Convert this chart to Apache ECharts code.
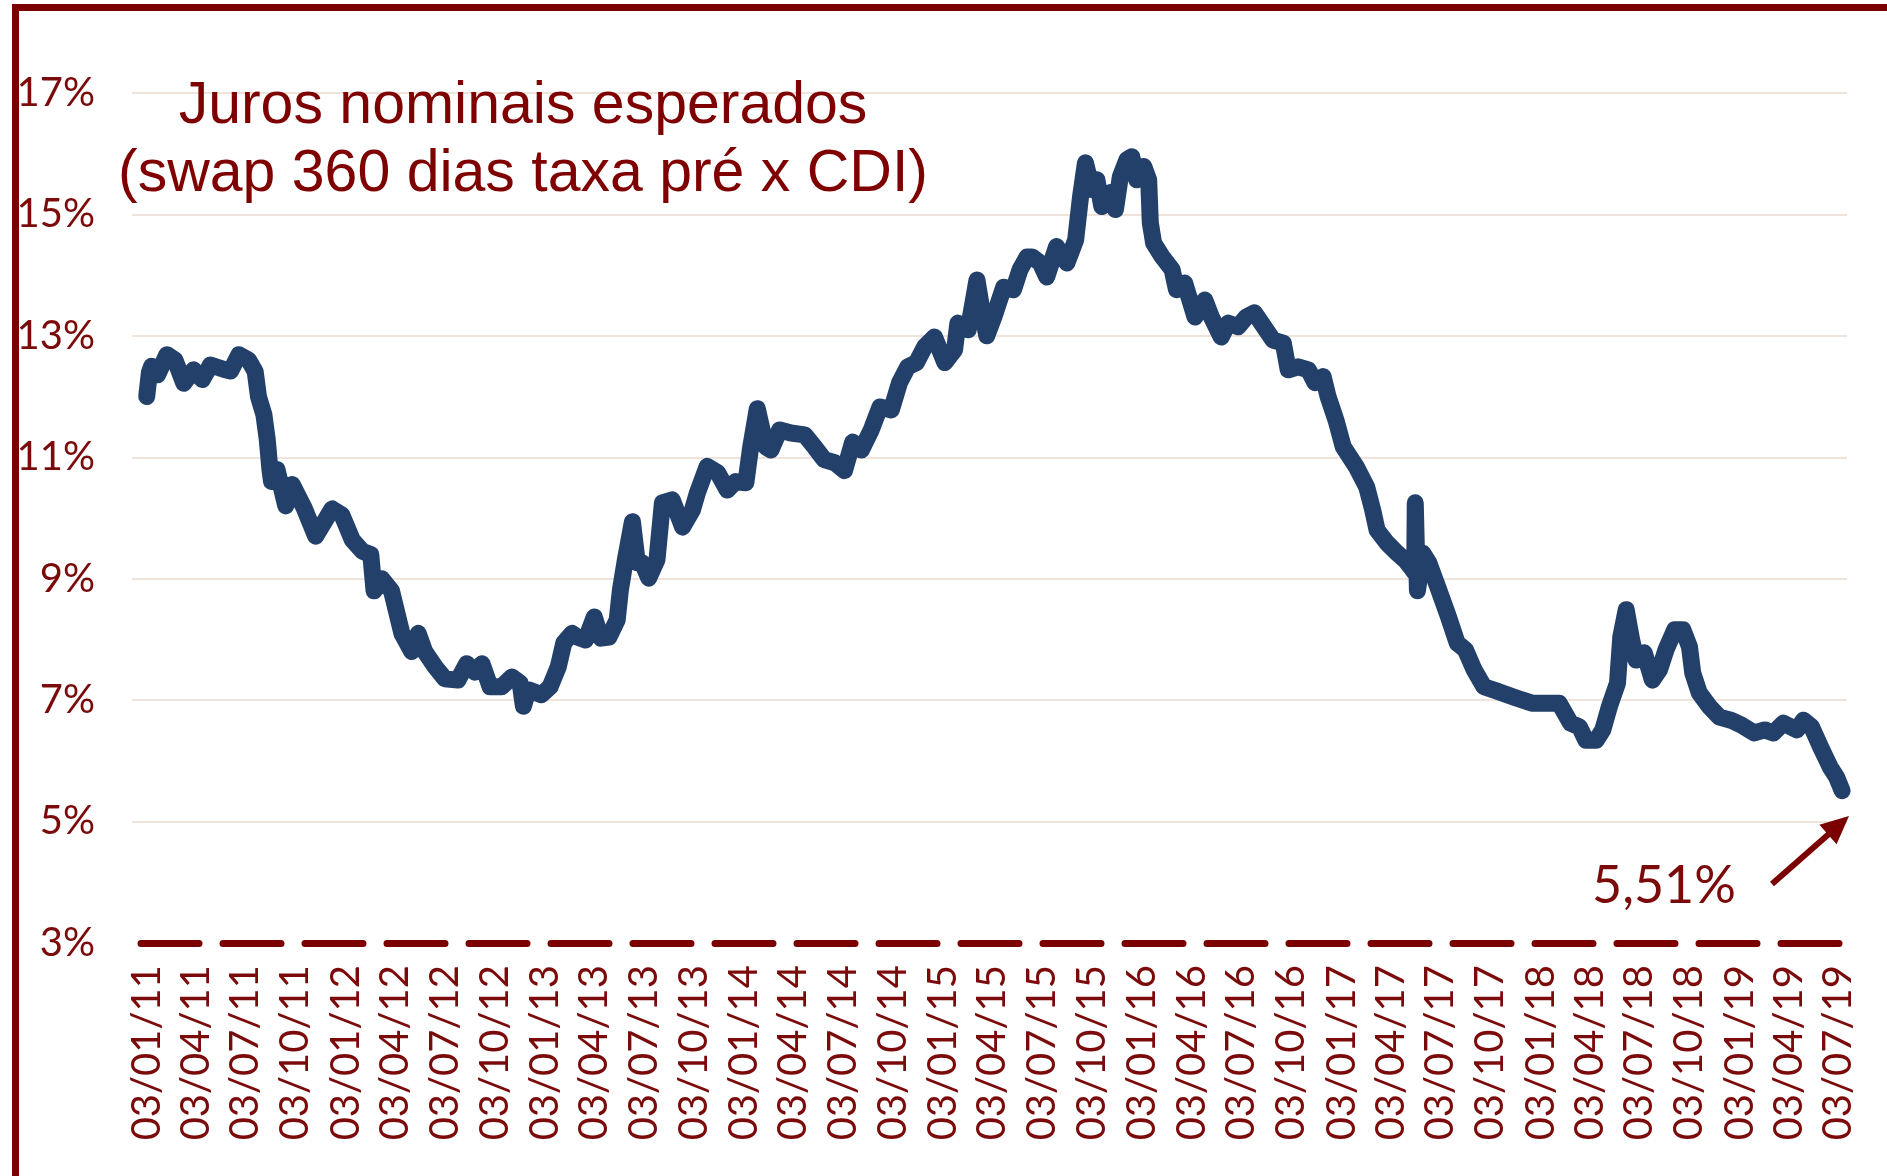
<!DOCTYPE html>
<html>
<head>
<meta charset="utf-8">
<script src="https://cdn.jsdelivr.net/npm/echarts@6/dist/echarts.min.js"></script>
<style>
  html, body { margin: 0; padding: 0; background: #ffffff; }
  #chart { width: 1887px; height: 1176px; }
</style>
</head>
<body>
<div id="chart"></div>
<script>
// swap 360 dias pré x CDI (% a.a.)
const dates = [
    '2011-01-03', '2011-01-08', '2011-01-12', '2011-01-23', '2011-02-09', '2011-02-24', '2011-03-12', '2011-03-30',
    '2011-04-15', '2011-04-30', '2011-05-24', '2011-06-06', '2011-06-21', '2011-07-09', '2011-07-21', '2011-07-27',
    '2011-08-06', '2011-08-12', '2011-08-17', '2011-08-20', '2011-08-30', '2011-09-15', '2011-09-27', '2011-10-18',
    '2011-11-09', '2011-12-09', '2011-12-27', '2012-01-15', '2012-02-03', '2012-02-18', '2012-02-24', '2012-03-09',
    '2012-03-27', '2012-04-15', '2012-05-03', '2012-05-15', '2012-05-27', '2012-06-15', '2012-07-03', '2012-07-27',
    '2012-08-12', '2012-08-27', '2012-09-09', '2012-09-24', '2012-10-15', '2012-11-03', '2012-11-18', '2012-11-24',
    '2012-12-03', '2012-12-27', '2013-01-12', '2013-01-27', '2013-02-06', '2013-02-21', '2013-03-03', '2013-03-18',
    '2013-04-03', '2013-04-15', '2013-04-30', '2013-05-15', '2013-05-21', '2013-05-30', '2013-06-12', '2013-06-21',
    '2013-06-30', '2013-07-12', '2013-07-27', '2013-08-06', '2013-08-24', '2013-09-12', '2013-09-30', '2013-10-09',
    '2013-10-27', '2013-11-15', '2013-12-03', '2013-12-18', '2014-01-06', '2014-01-15', '2014-01-27', '2014-02-12',
    '2014-02-21', '2014-03-09', '2014-03-30', '2014-04-24', '2014-05-12', '2014-05-30', '2014-06-18', '2014-07-06',
    '2014-07-21', '2014-08-06', '2014-08-24', '2014-09-09', '2014-09-30', '2014-10-15', '2014-10-30', '2014-11-15',
    '2014-11-30', '2014-12-18', '2015-01-06', '2015-01-24', '2015-01-30', '2015-02-18', '2015-03-06', '2015-03-15',
    '2015-03-24', '2015-04-06', '2015-04-24', '2015-05-12', '2015-05-24', '2015-06-06', '2015-06-15', '2015-06-30',
    '2015-07-12', '2015-07-30', '2015-08-18', '2015-09-03', '2015-09-12', '2015-09-21', '2015-10-03', '2015-10-12',
    '2015-10-21', '2015-11-06', '2015-11-15', '2015-11-24', '2015-12-06', '2015-12-15', '2015-12-24', '2016-01-06',
    '2016-01-15', '2016-01-18', '2016-01-24', '2016-02-09', '2016-02-27', '2016-03-06', '2016-03-21', '2016-04-09',
    '2016-04-27', '2016-05-09', '2016-05-27', '2016-06-09', '2016-06-27', '2016-07-12', '2016-07-27', '2016-08-09',
    '2016-08-30', '2016-09-18', '2016-09-27', '2016-10-15', '2016-11-03', '2016-11-15', '2016-11-30', '2016-12-09',
    '2016-12-24', '2017-01-06', '2017-01-30', '2017-02-18', '2017-03-01', '2017-03-09', '2017-03-27', '2017-04-15',
    '2017-04-30', '2017-05-09', '2017-05-17', '2017-05-18', '2017-05-22', '2017-06-01', '2017-06-12', '2017-06-30',
    '2017-07-18', '2017-08-03', '2017-08-18', '2017-09-03', '2017-09-21', '2017-10-18', '2017-11-18', '2017-12-18',
    '2018-01-12', '2018-02-06', '2018-02-27', '2018-03-15', '2018-03-27', '2018-04-15', '2018-04-27', '2018-05-09',
    '2018-05-24', '2018-05-30', '2018-06-09', '2018-06-18', '2018-06-27', '2018-07-12', '2018-07-27', '2018-08-09',
    '2018-08-21', '2018-09-06', '2018-09-21', '2018-10-03', '2018-10-09', '2018-10-21', '2018-11-09', '2018-11-27',
    '2018-12-18', '2019-01-06', '2019-01-30', '2019-02-18', '2019-03-06', '2019-03-24', '2019-04-18', '2019-04-30',
    '2019-05-15', '2019-06-03', '2019-06-18', '2019-06-30', '2019-07-10'
];
const rates = [
    12.0, 12.4, 12.5, 12.36, 12.69, 12.6, 12.22, 12.44,
    12.28, 12.52, 12.45, 12.42, 12.69, 12.6, 12.41, 12.0,
    11.7, 11.3, 10.8, 10.6, 10.8, 10.2, 10.55, 10.18,
    9.7, 10.15, 10.05, 9.64, 9.45, 9.4, 8.8, 9.0,
    8.8, 8.1, 7.8, 8.1, 7.8, 7.55, 7.35, 7.33,
    7.6, 7.46, 7.6, 7.22, 7.22, 7.38, 7.28, 6.9,
    7.17, 7.09, 7.22, 7.55, 7.94, 8.1, 8.04, 7.99,
    8.37, 8.02, 8.04, 8.32, 8.82, 9.31, 9.94, 9.26,
    9.26, 9.01, 9.31, 10.25, 10.3, 9.85, 10.13, 10.41,
    10.85, 10.75, 10.46, 10.6, 10.58, 11.17, 11.8, 11.17,
    11.12, 11.45, 11.4, 11.37, 11.17, 10.96, 10.91, 10.78,
    11.25, 11.12, 11.45, 11.83, 11.78, 12.23, 12.49, 12.56,
    12.82, 12.98, 12.56, 12.77, 13.21, 13.1, 13.92, 13.43,
    13.0, 13.31, 13.8, 13.76, 14.09, 14.3, 14.3, 14.2,
    13.97, 14.47, 14.2, 14.58, 15.29, 15.85, 15.41, 15.57,
    15.13, 15.36, 15.08, 15.62, 15.9, 15.95, 15.57, 15.79,
    15.57, 14.86, 14.53, 14.3, 14.09, 13.76, 13.87, 13.31,
    13.59, 13.31, 12.98, 13.21, 13.15, 13.31, 13.38, 13.21,
    12.93, 12.88, 12.44, 12.49, 12.44, 12.23, 12.33, 12.0,
    11.6, 11.17, 10.84, 10.51, 10.13, 9.8, 9.59, 9.42,
    9.3, 9.2, 9.1, 10.25, 8.8, 9.42, 9.26, 8.82,
    8.37, 7.94, 7.83, 7.5, 7.22, 7.14, 7.04, 6.95,
    6.95, 6.95, 6.62, 6.56, 6.34, 6.34, 6.51, 6.89,
    7.28, 8.04, 8.49, 8.04, 7.66, 7.78, 7.33, 7.5,
    7.83, 8.16, 8.16, 7.88, 7.45, 7.12, 6.89, 6.72,
    6.67, 6.59, 6.46, 6.51, 6.46, 6.62, 6.51, 6.67,
    6.56, 6.18, 5.9, 5.73, 5.51
];
const tickLabels = [
    '03/01/11', '03/04/11', '03/07/11', '03/10/11', '03/01/12', '03/04/12', '03/07/12', '03/10/12',
    '03/01/13', '03/04/13', '03/07/13', '03/10/13', '03/01/14', '03/04/14', '03/07/14', '03/10/14',
    '03/01/15', '03/04/15', '03/07/15', '03/10/15', '03/01/16', '03/04/16', '03/07/16', '03/10/16',
    '03/01/17', '03/04/17', '03/07/17', '03/10/17', '03/01/18', '03/04/18', '03/07/18', '03/10/18',
    '03/01/19', '03/04/19', '03/07/19'
];
const lastLabel = '5,51%';

const darkRed = '#7b0a0a';

function isoToTime(s) {
    const p = s.split('-');
    return Date.UTC(+p[0], +p[1] - 1, +p[2]);
}
function tickToTime(s) {
    const p = s.split('/');
    return Date.UTC(2000 + +p[2], +p[1] - 1, +p[0]);
}
function pad(n) {
    return n < 10 ? '0' + n : '' + n;
}

const chart = echarts.init(document.getElementById('chart'));
const seriesData = dates.map((d, i) => [isoToTime(d), rates[i]]);
const tickValues = tickLabels.map(tickToTime);

const option = {
    backgroundColor: '#ffffff',
    animation: false,
    grid: {
        left: 132,
        right: 40,
        top: 93,
        bottom: 233
    },
    xAxis: {
        type: 'value',
        min: Date.UTC(2010, 11, 7),
        max: Date.UTC(2019, 6, 19),
        splitLine: {show: false},
        axisTick: {show: false, customValues: tickValues},
        axisLine: {
            show: true,
            lineStyle: {
                color: '#7b0000',
                width: 7,
                type: [58, 24],
                dashOffset: 73
            }
        },
        axisLabel: {
            customValues: tickValues,
            rotate: 90,
            margin: 22,
            color: darkRed,
            fontFamily: 'Lato',
            fontSize: 40,
            formatter: function (v) {
                const d = new Date(v);
                return pad(d.getUTCDate()) + '/' + pad(d.getUTCMonth() + 1) + '/' + pad(d.getUTCFullYear() % 100);
            }
        }
    },
    yAxis: {
        type: 'value',
        min: 3,
        max: 17,
        interval: 2,
        axisLine: {show: false},
        axisTick: {show: false},
        splitLine: {
            show: true,
            showMinLine: false,
            lineStyle: {color: '#efe3da', width: 2}
        },
        axisLabel: {
            margin: 37,
            color: darkRed,
            fontFamily: 'Lato',
            fontSize: 40,
            formatter: '{value}%'
        }
    },
    series: [
        {
            type: 'line',
            data: seriesData,
            showSymbol: false,
            smooth: false,
            lineStyle: {
                color: '#22406a',
                width: 17,
                cap: 'round',
                join: 'round'
            }
        }
    ],
    graphic: [
        // frame
        {type: 'rect', shape: {x: 12, y: 4, width: 1875, height: 7}, style: {fill: '#7a0000'}, z: 100},
        {type: 'rect', shape: {x: 12, y: 4, width: 7, height: 1172}, style: {fill: '#7a0000'}, z: 100},
        // title
        {
            type: 'text',
            x: 523,
            y: 73,
            z: 100,
            style: {
                text: 'Juros nominais esperados\n(swap 360 dias taxa pré x CDI)',
                font: '59px "Liberation Sans"',
                fill: '#7f0000',
                textAlign: 'center',
                lineHeight: 68
            }
        },
        // annotation of the last value
        {
            type: 'text',
            x: 1592,
            y: 912,
            z: 100,
            style: {
                text: lastLabel,
                font: '52px Lato',
                fill: darkRed,
                textAlign: 'left',
                textVerticalAlign: 'bottom'
            }
        },
        {
            type: 'line',
            z: 100,
            shape: {x1: 1772, y1: 884, x2: 1830, y2: 833},
            style: {stroke: '#7b0000', lineWidth: 6}
        },
        {
            type: 'polygon',
            z: 100,
            shape: {points: [[1849, 816], [1836.6, 844.3], [1819.4, 824.8]]},
            style: {fill: '#7b0000'}
        }
    ]
};
chart.setOption(option);
</script>
</body>
</html>
